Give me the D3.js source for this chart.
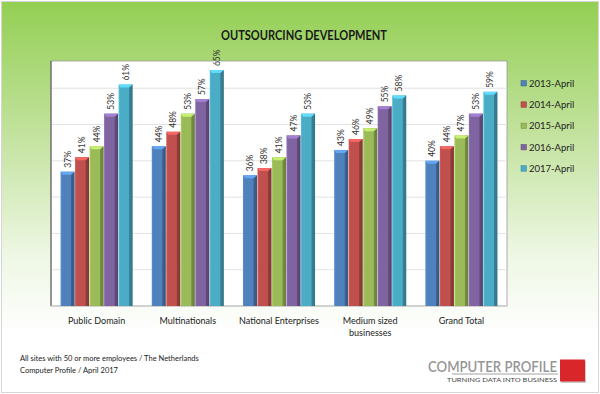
<!DOCTYPE html>
<html lang="en">
<head>
<meta charset="UTF-8">
<title>Outsourcing Development</title>
<script src="https://d3js.org/d3.v7.min.js"></script>
<style>
    body { margin: 0; padding: 0; background: #fff; }
    svg { display: block; font-family: Lato, "Open Sans", sans-serif; }
</style>
</head>
<body>
<div id="chart"></div>
<script>
    const width = 600;
    const height = 394;

    // data
    const categories = ["Public Domain", "Multinationals", "National Enterprises", "Medium sized\nbusinesses", "Grand Total"];
    const seriesNames = ["2013-April", "2014-April", "2015-April", "2016-April", "2017-April"];
    const values2013 = [37, 44, 36, 43, 40];
    const values2014 = [41, 48, 38, 46, 44];
    const values2015 = [44, 53, 41, 49, 47];
    const values2016 = [53, 57, 47, 55, 53];
    const values2017 = [61, 65, 53, 58, 59];
    const gridTicks = [10, 20, 30, 40, 50, 60];
    const colors = ["#4f81bd", "#c0504d", "#9bbb59", "#8064a2", "#4bacc6"];

    const allValues = [values2013, values2014, values2015, values2016, values2017];

    const svg = d3.select("#chart").append("svg")
        .attr("width", width)
        .attr("height", height);

    const defs = svg.append("defs");

    // background green fade
    const bg = defs.append("linearGradient").attr("id", "bg")
        .attr("x1", 0).attr("y1", 0).attr("x2", 0).attr("y2", 1);
    bg.append("stop").attr("offset", "0%").attr("stop-color", "#93cf53");
    bg.append("stop").attr("offset", "35%").attr("stop-color", "#c4e3a0");
    bg.append("stop").attr("offset", "65%").attr("stop-color", "#eef7e4");
    bg.append("stop").attr("offset", "85%").attr("stop-color", "#ffffff");

    // bevel gradients for the bars
    colors.forEach((c, i) => {
        const base = d3.color(c);
        const g = defs.append("linearGradient").attr("id", "bar" + i)
            .attr("x1", 0).attr("y1", 0).attr("x2", 1).attr("y2", 0);
        g.append("stop").attr("offset", "0%").attr("stop-color", base.brighter(0.3));
        g.append("stop").attr("offset", "12%").attr("stop-color", base);
        g.append("stop").attr("offset", "72%").attr("stop-color", base);
        g.append("stop").attr("offset", "78%").attr("stop-color", base.darker(0.8));
        g.append("stop").attr("offset", "100%").attr("stop-color", base.darker(1.1));
    });

    svg.append("rect")
        .attr("x", 1.5).attr("y", 1.5)
        .attr("width", width - 3).attr("height", height - 3)
        .attr("fill", "url(#bg)")
        .attr("stroke", "#d6d6d6");

    const plot = { left: 51, right: 507, top: 61, bottom: 306 };

    svg.append("text")
        .attr("x", 304).attr("y", 40)
        .attr("text-anchor", "middle")
        .attr("font-size", 13)
        .attr("font-weight", "bold")
        .attr("fill", "#1a1a1a")
        .attr("textLength", 166)
        .attr("lengthAdjust", "spacingAndGlyphs")
        .text("OUTSOURCING DEVELOPMENT");

    svg.append("rect")
        .attr("x", plot.left).attr("y", plot.top)
        .attr("width", plot.right - plot.left)
        .attr("height", plot.bottom - plot.top)
        .attr("fill", "#fff")
        .attr("stroke", "#9a9a9a")
        .attr("stroke-width", 0.8);

    const x = d3.scaleBand()
        .domain(categories)
        .range([plot.left, plot.right])
        .paddingInner(0.2)
        .paddingOuter(0.1);

    const xs = d3.scaleBand()
        .domain(seriesNames)
        .range([0, x.bandwidth()])
        .padding(0.03);

    const y = d3.scaleLinear()
        .domain([0, 67.5])
        .range([plot.bottom, plot.top]);

    // gridlines
    svg.append("g")
        .selectAll("line")
        .data(gridTicks)
        .join("line")
        .attr("x1", plot.left).attr("x2", plot.right)
        .attr("y1", d => y(d)).attr("y2", d => y(d))
        .attr("stroke", "#e2e2e2");

    // left axis line
    svg.append("line")
        .attr("x1", plot.left).attr("x2", plot.left)
        .attr("y1", plot.top).attr("y2", plot.bottom)
        .attr("stroke", "#555");
    svg.append("line")
        .attr("x1", plot.left).attr("x2", plot.right)
        .attr("y1", plot.bottom).attr("y2", plot.bottom)
        .attr("stroke", "#cfcfcf");

    const groups = svg.append("g")
        .selectAll("g")
        .data(categories)
        .join("g")
        .attr("transform", d => `translate(${x(d)},0)`);

    groups.each(function(cat, ci) {
        const g = d3.select(this);
        seriesNames.forEach((s, si) => {
            const v = allValues[si][ci];
            const bx = xs(s);
            const bw = xs.bandwidth();
            const top = y(v);
            g.append("rect")
                .attr("x", bx).attr("y", top)
                .attr("width", bw).attr("height", plot.bottom - top)
                .attr("fill", `url(#bar${si})`);
            // top cap highlight
            g.append("path")
                .attr("d", `M${bx},${top} L${bx + bw},${top} L${bx + bw * 0.75},${top + 3} L${bx + bw * 0.15},${top + 3} Z`)
                .attr("fill", d3.color(colors[si]).brighter(0.7));
            // value label
            g.append("text")
                .attr("transform", `translate(${bx + bw / 2 + 3},${top - 4}) rotate(-90)`)
                .attr("font-size", 8.5)
                .attr("fill", "#333")
                .text(v + "%");
        });
    });

    // category labels
    svg.append("g")
        .selectAll("text")
        .data(categories)
        .join("text")
        .attr("x", d => x(d) + x.bandwidth() / 2)
        .attr("y", 324)
        .attr("text-anchor", "middle")
        .attr("font-size", 9)
        .attr("fill", "#222")
        .each(function(d) {
            const t = d3.select(this);
            d.split("\n").forEach((line, i) => {
                t.append("tspan")
                    .attr("x", x(d) + x.bandwidth() / 2)
                    .attr("dy", i === 0 ? 0 : 12)
                    .text(line);
            });
        });

    // legend
    const legend = svg.append("g")
        .selectAll("g")
        .data(seriesNames)
        .join("g")
        .attr("transform", (d, i) => `translate(521,${83.5 + i * 21.3})`);
    legend.append("rect")
        .attr("x", 0).attr("y", -3)
        .attr("width", 5.5).attr("height", 5.5)
        .attr("fill", (d, i) => colors[i])
        .attr("stroke", (d, i) => d3.color(colors[i]).darker(0.8))
        .attr("stroke-width", 0.5);
    legend.append("text")
        .attr("x", 8).attr("y", 3.3)
        .attr("font-size", 9.5)
        .attr("fill", "#222")
        .text(d => d);

    // footer
    svg.append("text")
        .attr("x", 20).attr("y", 361)
        .attr("font-size", 7.5)
        .attr("fill", "#222")
        .text("All sites with 50 or more employees / The Netherlands");
    svg.append("text")
        .attr("x", 20).attr("y", 373)
        .attr("font-size", 7.5)
        .attr("fill", "#222")
        .text("Computer Profile / April 2017");

    // logo
    svg.append("text")
        .attr("x", 557).attr("y", 372)
        .attr("text-anchor", "end")
        .attr("font-size", 15)
        .attr("font-weight", 600)
        .attr("fill", "#969696")
        .attr("textLength", 129)
        .attr("lengthAdjust", "spacingAndGlyphs")
        .text("COMPUTER PROFILE");
    svg.append("line")
        .attr("x1", 452).attr("x2", 558)
        .attr("y1", 374).attr("y2", 374)
        .attr("stroke", "#8c8c8c")
        .attr("stroke-width", 0.8);
    svg.append("text")
        .attr("x", 557).attr("y", 382)
        .attr("text-anchor", "end")
        .attr("font-size", 6.5)
        .attr("fill", "#444")
        .attr("textLength", 110)
        .attr("lengthAdjust", "spacingAndGlyphs")
        .text("TURNING DATA INTO BUSINESS");
    svg.append("rect")
        .attr("x", 561).attr("y", 361)
        .attr("width", 25).attr("height", 22)
        .attr("fill", "#c9c9c9");
    svg.append("rect")
        .attr("x", 560).attr("y", 359.5)
        .attr("width", 25).attr("height", 22)
        .attr("fill", "#d9262b");
</script>
</body>
</html>
